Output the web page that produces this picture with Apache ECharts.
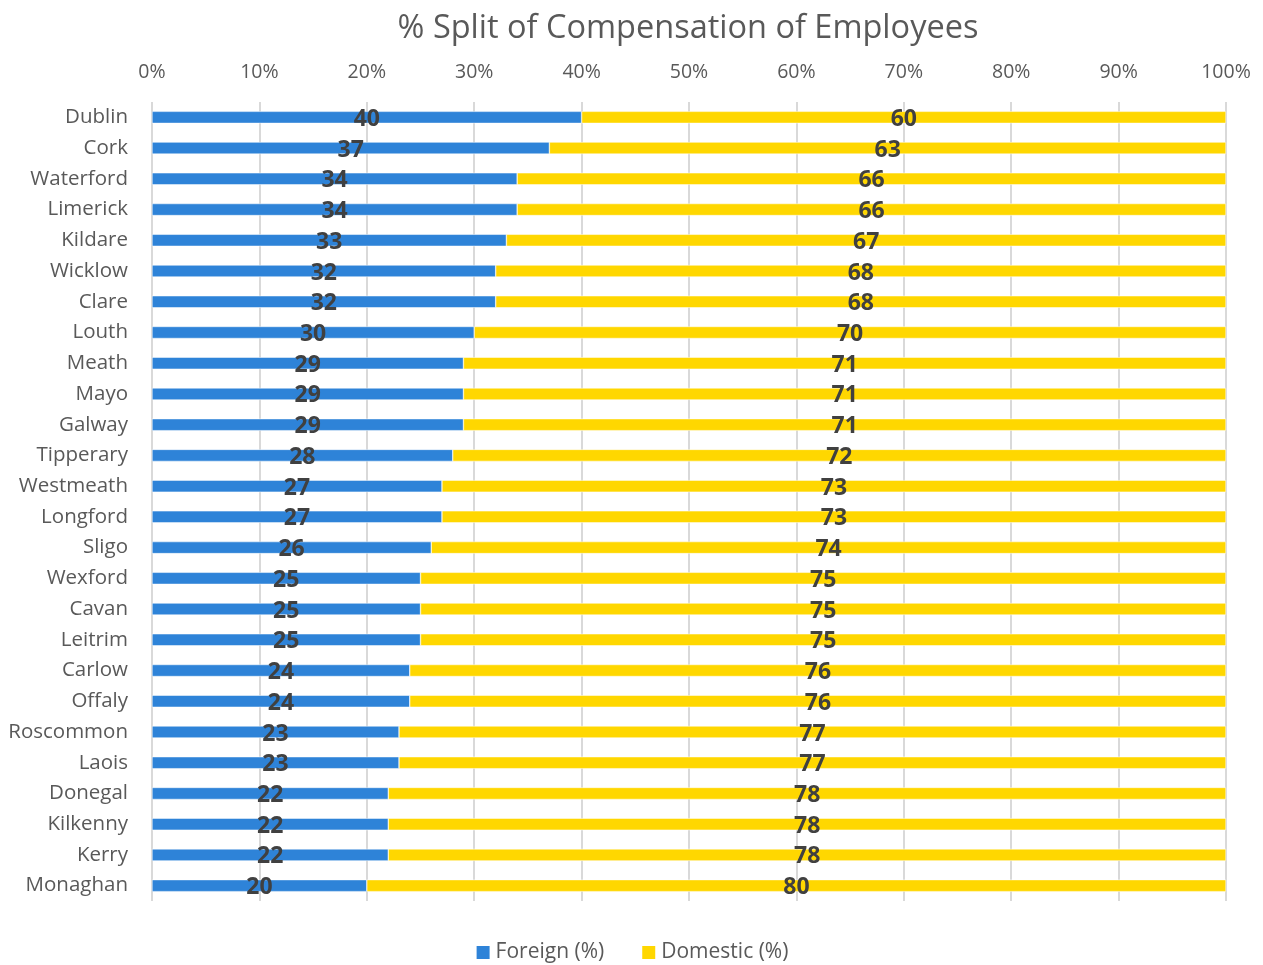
<!DOCTYPE html>
<html>
<head>
<meta charset="utf-8">
<script src="https://cdn.jsdelivr.net/npm/echarts@6/dist/echarts.min.js"></script>
<style>
  html, body { margin: 0; padding: 0; background: #fff; }
  #chart { width: 1263px; height: 965px; }
</style>
</head>
<body>
<div id="chart"></div>
<script>
// Counties, top to bottom
const counties = ['Dublin','Cork','Waterford','Limerick','Kildare','Wicklow','Clare','Louth','Meath','Mayo','Galway','Tipperary','Westmeath','Longford','Sligo','Wexford','Cavan','Leitrim','Carlow','Offaly','Roscommon','Laois','Donegal','Kilkenny','Kerry','Monaghan'];
// Share of compensation of employees (%)
const foreign  = [40,37,34,34,33,32,32,30,29,29,29,28,27,27,26,25,25,25,24,24,23,23,22,22,22,20];
const domestic = [60,63,66,66,67,68,68,70,71,71,71,72,73,73,74,75,75,75,76,76,77,77,78,78,78,80];
const tickValues = [0,10,20,30,40,50,60,70,80,90,100];

const font = '"Open Sans", "Noto Sans", sans-serif';
const chart = echarts.init(document.getElementById('chart'), null, { renderer: 'canvas' });

const labelStyle = {
  show: true,
  position: 'inside',
  offset: [0, 2],
  fontFamily: font,
  fontWeight: 'bold',
  fontSize: 23,
  color: '#404040'
};

chart.setOption({
  animation: false,
  title: {
    text: '% Split of Compensation of Employees',
    left: 683,
    textAlign: 'center',
    top: 7,
    textStyle: { fontFamily: font, fontSize: 32.5, fontWeight: 'normal', color: '#595959' }
  },
  legend: {
    top: 937,
    left: 'center',
    itemWidth: 15,
    itemHeight: 15,
    itemGap: 36,
    icon: 'rect',
    textStyle: { fontFamily: font, fontSize: 21, color: '#595959' },
    data: ['Foreign (%)', 'Domestic (%)']
  },
  grid: { left: 152, right: 37, top: 102, bottom: 64 },
  xAxis: {
    type: 'value',
    position: 'top',
    min: 0,
    max: 100,
    interval: 10,
    axisLine: { show: false },
    axisTick: { show: false },
    splitLine: { show: true, lineStyle: { color: '#d9d9d9', width: 2 } },
    axisLabel: {
      fontFamily: font,
      fontSize: 19.5,
      color: '#595959',
      margin: 20,
      formatter: v => tickValues.includes(v) ? v + '%' : ''
    }
  },
  yAxis: {
    type: 'category',
    inverse: true,
    data: counties,
    axisLine: { show: false },
    axisTick: { show: false },
    axisLabel: { fontFamily: font, fontSize: 20.5, color: '#595959', margin: 24 }
  },
  series: [
    {
      name: 'Foreign (%)',
      type: 'bar',
      stack: 'total',
      data: foreign,
      barWidth: 12,
      itemStyle: { color: '#2e83d8', borderColor: '#ffffff', borderWidth: 0.5 },
      label: labelStyle
    },
    {
      name: 'Domestic (%)',
      type: 'bar',
      stack: 'total',
      data: domestic,
      barWidth: 12,
      itemStyle: { color: '#ffd700', borderColor: '#ffffff', borderWidth: 0.5 },
      label: labelStyle
    }
  ]
});
</script>
</body>
</html>
